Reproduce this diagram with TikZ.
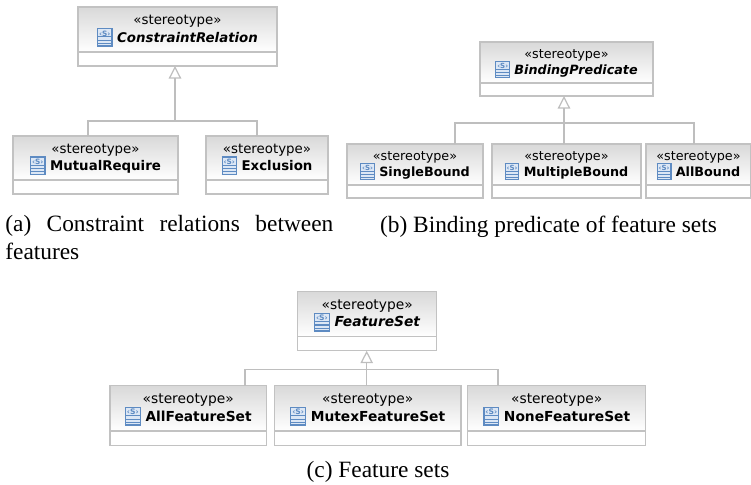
\documentclass[tikz,border=0pt]{standalone}
\usepackage{fontspec}
\usepackage{xcolor}
\usepackage{graphicx}
\usepackage{tikz}
\usetikzlibrary{calc}
\usetikzlibrary{arrows.meta}
\usetikzlibrary{positioning}
\setmainfont{Liberation Serif}
\newfontfamily\umlfont{DejaVu Sans}
\definecolor{umlgray}{HTML}{C2C2C2}
\definecolor{linegray}{HTML}{BEBEBE}
\definecolor{iconblue}{HTML}{5E8BC2}
\definecolor{iconfill}{HTML}{DCE7F5}
\tikzset{umlsize/.store in=\umlsize, umlsize=\normalsize}
\tikzstyle{umlhead} = [draw=umlgray, line width=0.6pt, top color=black!15, bottom color=white, inner sep=0pt, outer sep=0pt]
\tikzstyle{umlcomp} = [draw=umlgray, line width=0.6pt, fill=white, inner sep=0pt, outer sep=0pt]
\tikzstyle{stereo} = [inner sep=0pt, font=\umlsize\umlfont]
\tikzstyle{clsname} = [inner sep=0pt, font=\umlsize\umlfont\bfseries]
\tikzstyle{genline} = [draw=linegray, line width=0.7pt]
\tikzstyle{genarrow} = [genline, -{Triangle[open, length=0.25cm, width=0.25cm]}]
\tikzstyle{caption} = [inner sep=0pt, font=\fontsize{13.3}{16.5}\selectfont]
% small stereotype icon, sized by the font in force
\newcommand{\sticon}{\raisebox{-0.25em}{\setlength{\fboxsep}{0pt}\setlength{\fboxrule}{0.09em}%
  \fcolorbox{iconblue}{iconfill}{\vbox to 1.2em{\hsize=0.98em\offinterlineskip
    \vskip0.1em
    \hbox to\hsize{\hss\scalebox{0.55}{\color{iconblue}\bfseries ‹S›}\hss}\vfill
    \hbox{\color{iconblue}\rule{\hsize}{0.09em}}\vskip0.16em
    \hbox{\color{iconblue}\rule{\hsize}{0.09em}}\vskip0.16em
    \hbox{\color{iconblue}\rule{\hsize}{0.09em}}\vskip0.12em}}}}
% name, x, top, width, head height, compartment height, text
\newcommand{\umlclass}[7]{%
  \node [umlhead, anchor=north, minimum width=#4*0.02cm, minimum height=#5*0.02cm] (#1) at (#2,#3) {};
  \node [umlcomp, below=0pt of #1, minimum width=#4*0.02cm, minimum height=#6*0.02cm] (#1b) {};
  \node [stereo] (#1s) at ($(#1.north)!0.32!(#1.south)$) {«stereotype»};
  \node [clsname] (#1n) at ($(#1.north)!0.675!(#1.south)$) {\sticon\hspace{0.34em}#7};
}
\begin{document}
\begin{tikzpicture}[x=0.02cm, y=-0.02cm]
\useasboundingbox (0,0) rectangle (751,484);
\begin{scope}[umlsize=\fontsize{7.6}{9}\selectfont]
\umlclass{cr}{177.5}{7}{199}{45}{14}{\textit{ConstraintRelation}}
\umlclass{mr}{95.5}{136}{165}{44}{14}{MutualRequire}
\umlclass{ex}{267}{136}{122}{44}{14}{Exclusion}
\coordinate (cr1) at (88,121);
\coordinate (cr2) at (175,121);
\coordinate (cr3) at (257,121);
\draw [genline] (cr1 |- mr.north) -- (cr1) -- (cr3) -- (cr3 |- ex.north);
\draw [genarrow] (cr2) -- (cr2 |- crb.south);
\end{scope}
\begin{scope}[umlsize=\fontsize{7.26}{9}\selectfont]
\umlclass{bp}{566.5}{42}{173}{41}{13}{\textit{BindingPredicate}}
\umlclass{sb}{415}{144}{136}{41}{13}{SingleBound}
\umlclass{mb}{566.5}{144}{149}{41}{13}{MultipleBound}
\umlclass{ab}{698.5}{144}{105}{41}{13}{AllBound}
\coordinate (bp1) at (455,123);
\coordinate (bp2) at (564,123);
\coordinate (bp3) at (694,123);
\draw [genline] (bp1 |- sb.north) -- (bp1) -- (bp3) -- (bp3 |- ab.north);
\draw [genarrow] (bp2 |- mb.north) -- (bp2 |- bpb.south);
\end{scope}
\begin{scope}[umlsize=\fontsize{7.85}{9}\selectfont]
\umlclass{fs}{367.2}{291.7}{139}{45}{14}{\textit{FeatureSet}}
\umlclass{afs}{188.25}{385.5}{156.5}{45.5}{14.5}{AllFeatureSet}
\umlclass{mfs}{367.65}{385.5}{186.7}{45.5}{14.5}{MutexFeatureSet}
\umlclass{nfs}{556.7}{385.5}{178}{45.5}{14.5}{NoneFeatureSet}
\coordinate (fs1) at (245,369.3);
\coordinate (fs2) at (366.7,369.3);
\coordinate (fs3) at (498,369.3);
\draw [genline] (fs1 |- afs.north) -- (fs1) -- (fs3) -- (fs3 |- nfs.north);
\draw [genarrow] (fs2 |- mfs.north) -- (fs2 |- fsb.south);
\end{scope}
\node [caption, text width=6.56cm, align=justify, anchor=base west] (capa) at (5,231) {(a) Constraint relations between features};
\node [caption, anchor=base] (capb) at (548.5,232) {(b) Binding predicate of feature sets};
\node [caption, anchor=base] (capc) at (378,477) {(c) Feature sets};
\end{tikzpicture}
\end{document}
